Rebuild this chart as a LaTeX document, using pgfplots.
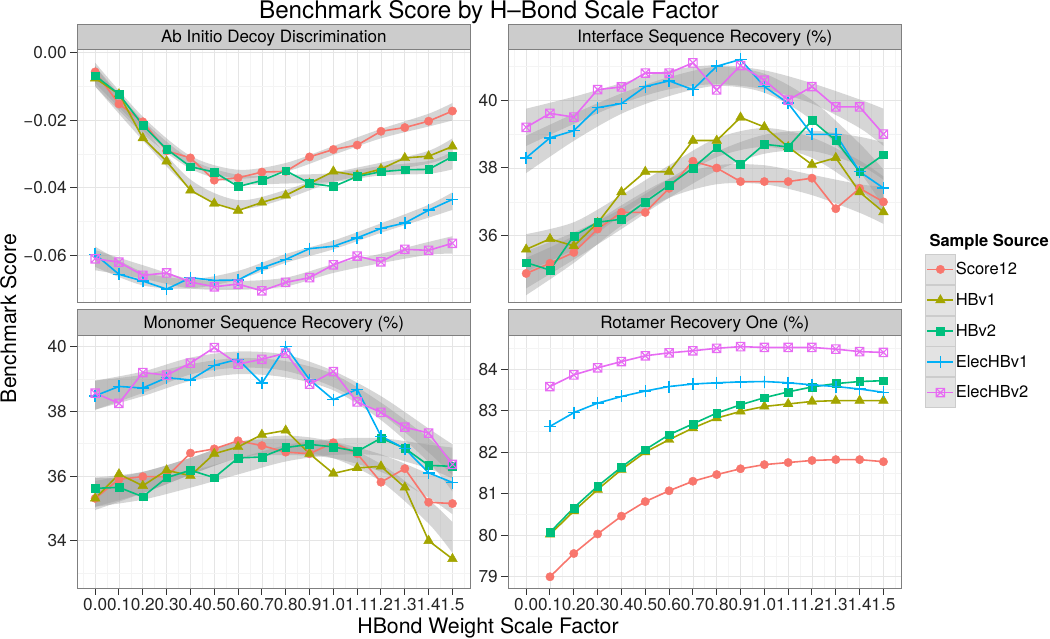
\documentclass[border=0pt]{standalone}
\usepackage{fontspec}
\setmainfont{TeX Gyre Heros}
\usepackage{pgfplots}
\usepackage{pgfplotstable}
\pgfplotsset{compat=1.18}
\usepgfplotslibrary{fillbetween}

\definecolor{cS}{HTML}{F8766D}
\definecolor{cH1}{HTML}{A3A500}
\definecolor{cH2}{HTML}{00BF7D}
\definecolor{cE1}{HTML}{00B0F6}
\definecolor{cE2}{HTML}{E76BF3}
\definecolor{gridmaj}{HTML}{E5E5E5}
\definecolor{gridmin}{HTML}{F4F4F4}
\definecolor{border}{HTML}{7F7F7F}
\definecolor{stripbg}{HTML}{CCCCCC}
\definecolor{keybg}{HTML}{E3E3E3}

\newcommand{\fs}[1]{\fontsize{#1}{#1}\selectfont}

% boxed x marker (ggplot shape 7)
\pgfdeclareplotmark{boxx}{%
  \pgfpathrectangle{\pgfqpoint{-\pgfplotmarksize}{-\pgfplotmarksize}}{\pgfqpoint{2\pgfplotmarksize}{2\pgfplotmarksize}}%
  \pgfpathmoveto{\pgfqpoint{-\pgfplotmarksize}{-\pgfplotmarksize}}%
  \pgfpathlineto{\pgfqpoint{\pgfplotmarksize}{\pgfplotmarksize}}%
  \pgfpathmoveto{\pgfqpoint{-\pgfplotmarksize}{\pgfplotmarksize}}%
  \pgfpathlineto{\pgfqpoint{\pgfplotmarksize}{-\pgfplotmarksize}}%
  \pgfusepathqstroke}

% scores by scale factor
\pgfplotstableread{
x    s12     hb1     hb2     e1      e2
0.0 -0.0057 -0.0076 -0.0068 -0.0598 -0.0611
0.1 -0.0152 -0.0123 -0.0123 -0.0657 -0.0621
0.2 -0.0205 -0.0253 -0.0215 -0.0677 -0.0660
0.3 -0.0291 -0.0322 -0.0286 -0.0701 -0.0653
0.4 -0.0312 -0.0408 -0.0338 -0.0667 -0.0680
0.5 -0.0378 -0.0447 -0.0354 -0.0675 -0.0694
0.6 -0.0371 -0.0468 -0.0397 -0.0674 -0.0686
0.7 -0.0354 -0.0444 -0.0379 -0.0638 -0.0706
0.8 -0.0352 -0.0423 -0.0350 -0.0613 -0.0681
0.9 -0.0309 -0.0388 -0.0387 -0.0581 -0.0667
1.0 -0.0287 -0.0352 -0.0397 -0.0574 -0.0629
1.1 -0.0274 -0.0364 -0.0367 -0.0549 -0.0603
1.2 -0.0233 -0.0345 -0.0353 -0.0521 -0.0620
1.3 -0.0222 -0.0312 -0.0347 -0.0505 -0.0583
1.4 -0.0203 -0.0307 -0.0346 -0.0467 -0.0586
1.5 -0.0173 -0.0278 -0.0308 -0.0435 -0.0565
}\abinit

\pgfplotstableread{
x   s12   hb1   hb2   e1    e2
0.0 34.89 35.60 35.21 38.30 39.20
0.1 35.19 35.91 34.99 38.89 39.61
0.2 35.51 35.70 36.00 39.10 39.50
0.3 36.20 36.38 36.40 39.78 40.31
0.4 36.69 37.29 36.49 39.90 40.39
0.5 36.69 37.89 37.00 40.40 40.80
0.6 37.40 37.89 37.49 40.57 40.80
0.7 38.20 38.81 38.00 40.31 41.10
0.8 38.00 38.81 38.60 41.00 40.30
0.9 37.60 39.49 38.10 41.20 41.02
1.0 37.60 39.21 38.70 40.40 40.59
1.1 37.60 38.62 38.62 39.91 40.00
1.2 37.70 38.10 39.40 38.99 40.40
1.3 36.80 38.30 38.81 38.99 39.80
1.4 37.40 37.29 37.89 37.89 39.80
1.5 37.00 36.70 38.39 37.41 39.00
}\interface

\pgfplotstableread{
x   s12   hb1   hb2   e1    e2
0.0 35.31 35.31 35.62 38.48 38.56
0.1 35.90 36.06 35.65 38.77 38.25
0.2 35.98 35.70 35.36 38.72 39.20
0.3 35.98 36.18 35.95 39.04 39.12
0.4 36.71 36.01 36.18 38.97 39.49
0.5 36.84 36.69 35.95 39.42 39.97
0.6 37.09 36.90 36.56 39.61 39.46
0.7 36.94 37.28 36.59 38.87 39.61
0.8 36.74 37.41 36.88 40.00 39.80
0.9 36.69 36.69 36.98 38.98 38.84
1.0 37.03 36.08 36.90 38.36 39.23
1.1 36.69 36.25 36.76 38.68 38.29
1.2 35.81 36.30 37.17 37.23 37.97
1.3 36.23 35.65 36.86 36.85 37.51
1.4 35.19 34.00 36.33 36.10 37.33
1.5 35.15 33.44 36.30 35.80 36.36
}\monomer

\pgfplotstableread{
x   s12   hb1   hb2   e1    e2
0.1 79.00 80.02 80.07 82.62 83.58
0.2 79.56 80.58 80.66 82.95 83.86
0.3 80.03 81.10 81.18 83.18 84.03
0.4 80.46 81.58 81.64 83.34 84.18
0.5 80.81 82.00 82.06 83.47 84.32
0.6 81.07 82.30 82.42 83.58 84.39
0.7 81.30 82.58 82.68 83.64 84.44
0.8 81.46 82.82 82.94 83.67 84.50
0.9 81.60 82.98 83.14 83.69 84.54
1.0 81.70 83.10 83.31 83.70 84.52
1.1 81.75 83.16 83.45 83.67 84.52
1.2 81.80 83.22 83.57 83.62 84.52
1.3 81.82 83.24 83.65 83.58 84.48
1.4 81.82 83.24 83.70 83.52 84.42
1.5 81.77 83.24 83.72 83.44 84.40
}\rotamer

% smoother bands (upper / lower)
\pgfplotstableread{
x   su      sl      au      al      bu      bl      cu      cl      du      dl
0.0 -0.0030 -0.0090 -0.0040 -0.0100 -0.0040 -0.0100 -0.0575 -0.0635 -0.0585 -0.0645
0.2 -0.0190 -0.0230 -0.0220 -0.0260 -0.0200 -0.0240 -0.0650 -0.0690 -0.0630 -0.0670
0.4 -0.0306 -0.0334 -0.0376 -0.0404 -0.0316 -0.0344 -0.0671 -0.0699 -0.0671 -0.0699
0.6 -0.0347 -0.0373 -0.0437 -0.0463 -0.0362 -0.0388 -0.0647 -0.0673 -0.0677 -0.0703
0.8 -0.0327 -0.0353 -0.0407 -0.0433 -0.0362 -0.0388 -0.0597 -0.0623 -0.0667 -0.0693
1.0 -0.0277 -0.0303 -0.0357 -0.0383 -0.0357 -0.0383 -0.0557 -0.0583 -0.0627 -0.0653
1.2 -0.0226 -0.0254 -0.0326 -0.0354 -0.0336 -0.0364 -0.0506 -0.0534 -0.0596 -0.0624
1.4 -0.0181 -0.0219 -0.0291 -0.0329 -0.0321 -0.0359 -0.0451 -0.0489 -0.0561 -0.0599
1.5 -0.0149 -0.0201 -0.0254 -0.0306 -0.0294 -0.0346 -0.0414 -0.0466 -0.0544 -0.0596
}\abband

\pgfplotstableread{
x   su    sl    au    al    bu    bl    cu    cl    du    dl
0.0 35.35 34.25 36.05 34.95 35.55 34.45 38.95 37.85 39.75 38.65
0.2 36.00 35.20 36.40 35.60 36.10 35.30 39.60 38.80 40.10 39.30
0.4 36.90 36.30 37.20 36.60 36.80 36.20 40.20 39.60 40.50 39.90
0.6 37.68 37.12 38.08 37.52 37.68 37.12 40.68 40.12 40.88 40.32
0.8 38.08 37.52 38.88 38.32 38.48 37.92 40.98 40.42 41.03 40.47
1.0 38.08 37.52 39.18 38.62 38.98 38.42 40.78 40.22 40.88 40.32
1.2 37.80 37.20 38.90 38.30 39.10 38.50 40.00 39.40 40.50 39.90
1.4 37.52 36.68 38.22 37.38 38.92 38.08 38.72 37.88 40.02 39.18
1.5 37.45 36.35 37.75 36.65 38.75 37.65 37.95 36.85 39.75 38.65
}\ifband

\pgfplotstableread{
x   su    sl    au    al    bu    bl    cu    cl    du    dl
0.0 35.85 34.95 35.95 35.05 35.95 35.05 38.95 38.05 38.95 38.05
0.2 36.13 35.47 36.13 35.47 35.93 35.27 39.13 38.47 39.23 38.57
0.4 36.56 36.04 36.56 36.04 36.16 35.64 39.46 38.94 39.66 39.14
0.6 37.05 36.55 37.05 36.55 36.55 36.05 39.65 39.15 39.85 39.35
0.8 37.15 36.65 37.25 36.75 36.95 36.45 39.55 39.05 39.75 39.25
1.0 37.05 36.55 37.05 36.55 37.15 36.65 39.15 38.65 39.25 38.75
1.2 36.67 36.13 36.37 35.83 37.17 36.63 38.27 37.73 38.47 37.93
1.4 36.07 35.33 35.27 34.53 36.97 36.23 37.17 36.43 37.47 36.73
1.5 35.78 34.82 34.58 33.62 36.88 35.92 36.48 35.52 36.98 36.02
}\monoband

\newcommand{\band}[3]{%
  \addplot[draw=none, smooth, forget plot, name path=#2] table[x=x, y=#2]{#1};
  \addplot[draw=none, smooth, forget plot, name path=#3] table[x=x, y=#3]{#1};
  \addplot[fill=black!40, fill opacity=0.4, draw=none, forget plot] fill between[of=#2 and #3];
}
\newcommand{\allbands}[1]{%
  \band{#1}{su}{sl}\band{#1}{au}{al}\band{#1}{bu}{bl}\band{#1}{cu}{cl}\band{#1}{du}{dl}}
\newcommand{\series}[1]{%
  \addplot[s12] table[x=x, y=s12]{#1};
  \addplot[hb1] table[x=x, y=hb1]{#1};
  \addplot[hb2] table[x=x, y=hb2]{#1};
  \addplot[e1] table[x=x, y=e1]{#1};
  \addplot[e2] table[x=x, y=e2]{#1};}
\newcommand{\strip}[1]{%
  \draw[fill=stripbg, draw=border, line width=0.8pt] (rel axis cs:0,1) rectangle ([yshift=25.3pt]rel axis cs:1,1);
  \node[anchor=base, font=\fs{17}] at ([yshift=6.3pt]rel axis cs:0.5,1) {#1};}

\pgfplotsset{
  s12/.style={color=cS, line width=1.6pt, mark=*, mark size=4.2pt, mark options={line width=0.4pt}},
  hb1/.style={color=cH1, line width=1.6pt, mark=triangle*, mark size=5.6pt, mark options={line width=0.4pt}},
  hb2/.style={color=cH2, line width=1.6pt, mark=square*, mark size=3.9pt, mark options={line width=0.4pt}},
  e1/.style={color=cE1, line width=1.6pt, mark=+, mark size=6pt, mark options={line width=1.5pt}},
  e2/.style={color=cE2, line width=1.6pt, mark=boxx, mark size=4.2pt, mark options={line width=1.1pt}},
  panel/.style={
    scale only axis, width=393pt, height=253pt, anchor=south west, clip=false,
    xmin=-0.075, xmax=1.575,
    xtick={0,0.1,0.2,0.3,0.4,0.5,0.6,0.7,0.8,0.9,1.0,1.1,1.2,1.3,1.4,1.5},
    xticklabels={0.0,0.1,0.2,0.3,0.4,0.5,0.6,0.7,0.8,0.9,1.0,1.1,1.2,1.3,1.4,1.5},
    minor xtick={-0.05,0.05,0.15,0.25,0.35,0.45,0.55,0.65,0.75,0.85,0.95,1.05,1.15,1.25,1.35,1.45,1.55},
    grid=both, major grid style={color=gridmaj, line width=0.7pt},
    minor grid style={color=gridmin, line width=0.7pt},
    axis line style={color=border, line width=0.8pt},
    tick pos=left, tick align=outside, major tick length=7pt, minor tick length=0pt,
    tick style={color=black!80, line width=1pt},
    ticklabel style={font=\fs{17.2}, text=black!85},
    xticklabel style={inner xsep=0pt},
  },
  topx/.style={xticklabels={}, xtick style={draw=none}},
}

\begin{document}
\begin{tikzpicture}

\node[anchor=base, font=\fs{24.2}] at (489pt,620.7pt) {Benchmark Score by H–Bond Scale Factor};
\node[anchor=base, font=\fs{21.3}] at (488pt,5pt) {HBond Weight Scale Factor};
\node[anchor=base, rotate=90, font=\fs{21.3}] at (16pt,320.5pt) {Benchmark Score};

% top left
\begin{axis}[panel, topx, at={(77.3pt,336.7pt)},
  ymin=-0.074, ymax=0.001, ytick={-0.06,-0.04,-0.02,0},
  yticklabels={−0.06,−0.04,−0.02,0.00}, minor ytick={-0.07,-0.05,-0.03,-0.01}]
  \allbands{\abband}
  \series{\abinit}
  \strip{Ab Initio Decoy Discrimination}
\end{axis}

% top right (carries the legend)
\begin{axis}[panel, topx, at={(508.3pt,336.7pt)},
  ymin=34.04, ymax=41.50, ytick={36,38,40}, yticklabels={36,38,40},
  minor ytick={35,37,39,41},
  legend style={at={(1.0603,0.1909)}, anchor=north west, draw=none, fill=none,
    inner sep=0pt, outer sep=0pt, row sep=0pt, font=\fs{16.5},
    nodes={inner sep=0pt}, /tikz/every even column/.append style={column sep=3pt}},
  legend cell align=left,
  legend image code/.code={%
    \draw[draw=gray!40, fill=keybg, line width=0.8pt] (0pt,-15pt) rectangle (30pt,15pt);
    \draw[mark repeat=2, mark phase=2, #1] plot coordinates {(2pt,0pt) (15pt,0pt) (28pt,0pt)};}]
  \allbands{\ifband}
  \series{\interface}
  \legend{Score12,HBv1,HBv2,ElecHBv1,ElecHBv2}
  \strip{Interface Sequence Recovery (\%)}
\end{axis}

% bottom left
\begin{axis}[panel, at={(77.3pt,51pt)},
  ymin=32.54, ymax=40.36, ytick={34,36,38,40}, yticklabels={34,36,38,40},
  minor ytick={33,35,37,39}]
  \allbands{\monoband}
  \series{\monomer}
  \strip{Monomer Sequence Recovery (\%)}
\end{axis}

% bottom right
\begin{axis}[panel, at={(508.3pt,51pt)},
  ymin=78.73, ymax=84.82, ytick={79,80,81,82,83,84}, yticklabels={79,80,81,82,83,84},
  minor ytick={79.5,80.5,81.5,82.5,83.5,84.5}]
  \series{\rotamer}
  \strip{Rotamer Recovery One (\%)}
\end{axis}

\node[anchor=base west, font=\bfseries\fs{16.5}] at (926pt,392.3pt) {Sample Source};

\pgfresetboundingbox
\path[use as bounding box] (0pt,0pt) rectangle (1050pt,639pt);
\end{tikzpicture}
\end{document}
